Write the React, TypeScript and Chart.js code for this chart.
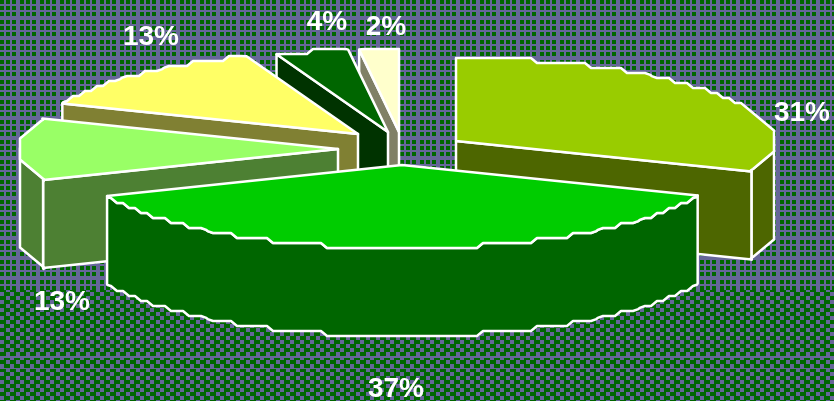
import React, { useEffect, useRef } from "react";
import { Chart, registerables } from "chart.js";

Chart.register(...registerables);

const categories = ["A", "B", "C", "D", "E", "F"];
const sliceShares = [31, 37.9, 12.1, 13.3, 3.7, 2];
const percentLabels = ["31%", "37%", "13%", "13%", "4%", "2%"];
const topColors = ["#99CC00", "#00CC00", "#99FF66", "#FFFF66", "#006600", "#FFFFCC"];
const wallColors = ["#4D6600", "#006600", "#4D8033", "#808033", "#003300", "#808066"];
const paintOrder = [5, 4, 3, 0, 2, 1];
const labelCentres = [[802, 112], [396, 388], [62, 301], [151, 36], [327, 21], [386, 26]];
const sliceShift = [[56, -8], [2, 16], [-62, 0], [-42, -15], [-12, -17], [-1, -17]];

const W = 834, H = 401;
const CX = 400, CY = 149, RX = 318, RY = 83, DEPTH = 88;
const GRID_X = 6, GRID_Y = 5, CUT = 3;

const UPPER = ["##.##.##..", "##.##.##..", "..........", "##.##.##..", "##.##.##..", "..........", "##.##.##..", "##.##.##..", "..........", ".........."];
const LOWER = ["###..###..", "###..###..", "..###..###", "..###..###"];

function tile(rows: string[], cell: number) {
  const c = document.createElement("canvas");
  c.width = rows[0].length * cell;
  c.height = rows.length * cell;
  const g = c.getContext("2d")!;
  g.fillStyle = "#666699";
  g.fillRect(0, 0, c.width, c.height);
  g.fillStyle = "#006600";
  rows.forEach((r, y) => [...r].forEach((ch, x) => {
    if (ch === "#") g.fillRect(x * cell, y * cell, cell, cell);
  }));
  return c;
}

function arcPoints(ox: number, oy: number, a0: number, a1: number) {
  const exact = (a: number) => [ox + RX * Math.cos(a), oy + RY * Math.sin(a)];
  const stair: number[][] = [exact(a0)];
  const n = Math.max(2, Math.ceil((a1 - a0) / 0.004));
  for (let i = 1; i < n; i++) {
    const a = a0 + ((a1 - a0) * i) / n;
    // Snap to a coarse grid measured inward from the rim's extremes, as the old renderer did.
    const dx = RX - RX * Math.abs(Math.cos(a));
    const dy = RY - RY * Math.abs(Math.sin(a));
    const qx = Math.sign(Math.cos(a)) * (RX - Math.round(dx / GRID_X) * GRID_X);
    const qy = Math.sign(Math.sin(a)) * (RY - Math.round(dy / GRID_Y) * GRID_Y);
    const q = [ox + qx, oy + qy];
    const last = stair[stair.length - 1];
    if (last[0] !== q[0] || last[1] !== q[1]) stair.push(q);
  }
  stair.push(exact(a1));
  const out: number[][] = [stair[0]];
  for (let i = 1; i < stair.length - 1; i++) {
    const [p, v, q] = [stair[i - 1], stair[i], stair[i + 1]];
    const toward = (t: number[]) => {
      const d = Math.hypot(t[0] - v[0], t[1] - v[1]) || 1;
      const c = Math.min(CUT, d / 2);
      return [v[0] + ((t[0] - v[0]) * c) / d, v[1] + ((t[1] - v[1]) * c) / d];
    };
    out.push(toward(p), toward(q));
  }
  out.push(stair[stair.length - 1]);
  return out;
}

const pie3d = {
  id: "pie3d",
  beforeDraw(chart: any) {
    const { ctx } = chart;
    ctx.save();
    ctx.fillStyle = ctx.createPattern(tile(UPPER, 2), "repeat");
    ctx.fillRect(0, 0, W, 290);
    ctx.fillStyle = ctx.createPattern(tile(LOWER, 2), "repeat");
    ctx.fillRect(0, 290, W, H - 290);
    ctx.fillStyle = "#666699";
    ctx.fillRect(0, 356, W, 2);
    ctx.fillRect(0, 368, W, 1);
    ctx.restore();
  },
  beforeDatasetsDraw(chart: any) {
    const { ctx } = chart;
    const arcs = chart.getDatasetMeta(0).data;
    ctx.save();
    ctx.strokeStyle = "#FFFFFF";
    ctx.lineWidth = 2.5;
    ctx.lineJoin = "round";
    const shape = (pts: number[][], fill: string) => {
      ctx.beginPath();
      pts.forEach((p, i) => (i ? ctx.lineTo(p[0], p[1]) : ctx.moveTo(p[0], p[1])));
      ctx.closePath();
      ctx.fillStyle = fill;
      ctx.fill();
      ctx.stroke();
    };
    paintOrder.forEach((i) => {
      const { startAngle: a0, endAngle: a1 } = arcs[i];
      const ox = CX + sliceShift[i][0];
      const oy = CY + sliceShift[i][1];
      const wall = wallColors[i];
      const radial = (a: number) => {
        const e = [ox + RX * Math.cos(a), oy + RY * Math.sin(a)];
        shape([[ox, oy], e, [e[0], e[1] + DEPTH], [ox, oy + DEPTH]], wall);
      };
      if (Math.cos(a0) < -1e-6) radial(a0);
      if (Math.cos(a1) > 1e-6) radial(a1);
      const norm = (a: number) => Math.atan2(Math.sin(a), Math.cos(a));
      const s = norm(a0), e = norm(a1);
      const from = Math.max(s, 0);
      const to = Math.min(e < s ? Math.PI : e, Math.PI);
      if (to > from && s < Math.PI) {
        const rim = arcPoints(ox, oy, from, to);
        const low = rim.slice().reverse().map((p) => [p[0], p[1] + DEPTH]);
        shape([...rim, ...low], wall);
      }
      shape([[ox, oy], ...arcPoints(ox, oy, a0, a1)], topColors[i]);
    });
    ctx.fillStyle = "#FFFFFF";
    ctx.font = "bold 28px 'Liberation Sans'";
    ctx.textAlign = "center";
    ctx.textBaseline = "middle";
    percentLabels.forEach((t, i) => {
      ctx.fillText(t, labelCentres[i][0], labelCentres[i][1] + 1);
    });
    ctx.restore();
    return false;
  },
};

export default function App() {
  const ref = useRef<HTMLCanvasElement>(null);
  useEffect(() => {
    document.body.style.margin = "0";
    const chart = new Chart(ref.current!, {
      type: "pie",
      data: { labels: categories, datasets: [{ data: sliceShares, backgroundColor: topColors }] },
      options: {
        responsive: false,
        animation: false,
        layout: { padding: 0 },
        plugins: { legend: { display: false }, tooltip: { enabled: false } },
      },
      plugins: [pie3d],
    } as any);
    return () => chart.destroy();
  }, []);
  return <canvas ref={ref} width={W} height={H} style={{ display: "block" }} />;
}
